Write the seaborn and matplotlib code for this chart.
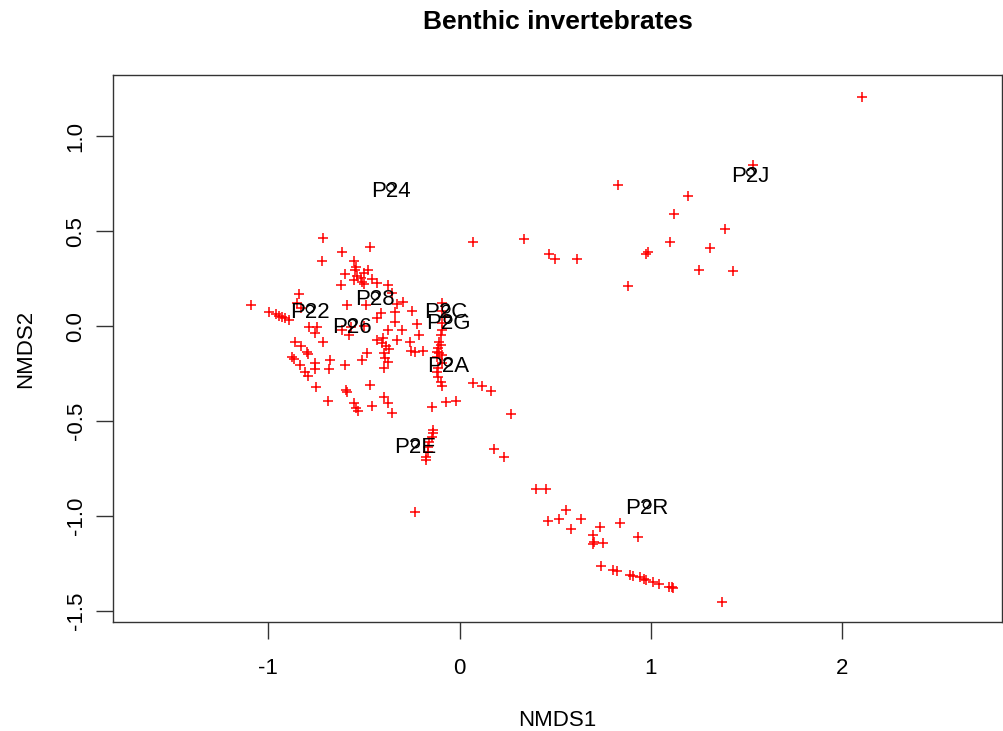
import matplotlib
matplotlib.use("Agg")
import matplotlib.pyplot as plt
import seaborn as sns
import pandas as pd

# Site scores (NMDS1, NMDS2)
nmds1 = [
    -0.711, -0.470, -0.612, -0.716, -0.549, -0.538, -0.544, -0.476, -0.596, -0.497,
    -0.533, -0.512, -0.507, -0.497, -0.549, -0.455, -0.429, -0.376, -0.617, -0.350,
    -0.836, -1.087, -0.847, -0.826, -0.993, -0.957, -0.941, -0.925, -0.909, -0.889,
    -0.585, -0.486, -0.324, -0.293, -0.246, -0.408, -0.335, -0.429, -0.335, -0.220,
    -0.094, -0.089, -0.078, -0.094, -0.784, -0.742, -0.753, -0.612, -0.575, -0.497,
    -0.376, -0.298, -0.209, -0.857, -0.826, -0.795, -0.789, -0.711, -0.873, -0.863,
    -0.831, -0.753, -0.753, -0.674, -0.680, -0.596, -0.507, -0.481, -0.805, -0.789,
    -0.748, -0.591, -0.585, -0.685, -0.549, -0.538, -0.528, -0.429, -0.397, -0.403,
    -0.382, -0.366, -0.324, -0.261, -0.251, -0.230, -0.193, -0.392, -0.387, -0.371,
    -0.392, -0.094, -0.099, -0.105, -0.099, -0.110, -0.115, -0.105, -0.094, -0.120,
    -0.120, -0.110, -0.099, -0.094, 0.073, 0.115, 0.167, -0.465, -0.392, -0.371,
    -0.350, -0.455, -0.146, -0.068, -0.016, 0.267, 0.178, 0.230, -0.141, -0.141,
    -0.146, -0.157, -0.162, -0.167, -0.173, -0.173, -0.230, 0.397, 0.450, 0.554,
    0.460, 0.518, 0.633, 0.580, 0.732, 0.836, 0.695, 0.700, 0.695, 0.747,
    0.930, 0.737, 0.800, 0.821, 0.889, 0.904, 0.941, 0.962, 0.972, 1.009,
    1.040, 1.093, 1.108, 1.113, 1.370, 0.826, 1.192, 1.119, 1.385, 0.068,
    0.335, 1.098, 0.470, 0.497, 0.612, 0.972, 0.983, 1.307, 1.249, 1.427,
    0.878, 1.532, 2.101, -0.094, -0.110, -0.565,
]
nmds2 = [
    0.463, 0.416, 0.389, 0.342, 0.342, 0.311, 0.295, 0.295, 0.274, 0.279,
    0.263, 0.253, 0.232, 0.221, 0.242, 0.247, 0.226, 0.216, 0.216, 0.174,
    0.168, 0.111, 0.121, 0.095, 0.074, 0.063, 0.053, 0.047, 0.042, 0.032,
    0.111, 0.111, 0.116, 0.126, 0.079, 0.068, 0.074, 0.042, 0.021, 0.011,
    0.121, 0.079, 0.047, 0.016, -0.005, -0.005, -0.037, -0.021, -0.047, 0.000,
    -0.021, -0.021, -0.047, -0.084, -0.105, -0.137, -0.147, -0.084, -0.163, -0.174,
    -0.205, -0.195, -0.226, -0.179, -0.226, -0.205, -0.179, -0.142, -0.242, -0.263,
    -0.321, -0.337, -0.347, -0.395, -0.405, -0.432, -0.447, -0.074, -0.063, -0.089,
    -0.105, -0.121, -0.074, -0.084, -0.132, -0.137, -0.132, -0.142, -0.168, -0.189,
    -0.221, -0.021, -0.047, -0.084, -0.100, -0.116, -0.137, -0.142, -0.153, -0.163,
    -0.242, -0.268, -0.295, -0.316, -0.300, -0.316, -0.342, -0.311, -0.374, -0.405,
    -0.458, -0.421, -0.426, -0.400, -0.395, -0.463, -0.647, -0.689, -0.547, -0.563,
    -0.584, -0.611, -0.637, -0.663, -0.689, -0.705, -0.979, -0.858, -0.858, -0.968,
    -1.026, -1.016, -1.016, -1.068, -1.058, -1.037, -1.100, -1.137, -1.147, -1.142,
    -1.111, -1.263, -1.284, -1.289, -1.311, -1.316, -1.321, -1.332, -1.337, -1.347,
    -1.358, -1.374, -1.374, -1.379, -1.453, 0.742, 0.684, 0.589, 0.511, 0.442,
    0.458, 0.442, 0.379, 0.353, 0.353, 0.379, 0.389, 0.411, 0.295, 0.289,
    0.211, 0.847, 1.205, -0.195, -0.221, -0.005,
]

# Group labels (centroids)
site_labels = ["P24", "P28", "P22", "P26", "P2C", "P2G", "P2A", "P2E", "P2R", "P2J"]
label_x = [-0.36, -0.44, -0.78, -0.56, -0.07, -0.06, -0.06, -0.23, 0.98, 1.52]
label_y = [0.71, 0.14, 0.07, -0.005, 0.07, 0.015, -0.21, -0.64, -0.96, 0.79]

x_ticks = [-1, 0, 1, 2]
y_ticks = [-1.5, -1.0, -0.5, 0.0, 0.5, 1.0]

sns.set_theme(style="ticks")
plt.rcParams["font.family"] = ["Liberation Sans", "DejaVu Sans"]
plt.rcParams["text.color"] = "black"
plt.rcParams["axes.labelcolor"] = "black"

df = pd.DataFrame({"NMDS1": nmds1, "NMDS2": nmds2})

fig = plt.figure(figsize=(10.04, 7.31), dpi=100)
ax = fig.add_axes([0.1125, 0.149, 0.886, 0.748])

sns.scatterplot(data=df, x="NMDS1", y="NMDS2", marker="+", color="red",
                s=45, linewidth=1.1, ax=ax, legend=False)

for lab, lx, ly in zip(site_labels, label_x, label_y):
    ax.text(lx, ly, lab, fontsize=16, ha="center", va="center", color="black")
ax.scatter(label_x, [v + 0.02 for v in label_y], marker="o", s=30,
           facecolors="none", edgecolors="black", linewidths=1.0)

ax.set_xlim(-1.81, 2.836)
ax.set_ylim(-1.558, 1.321)
ax.set_xticks(x_ticks)
ax.set_xticklabels([str(t) for t in x_ticks])
ax.set_yticks(y_ticks)
ax.set_yticklabels([f"{t:.1f}" for t in y_ticks], rotation=90, va="center")

for sp in ax.spines.values():
    sp.set_visible(True)
    sp.set_color("#333333")
    sp.set_linewidth(1.0)

ax.tick_params(axis="both", direction="out", length=12, width=1.0,
               color="#333333", labelsize=16, labelcolor="black")
ax.tick_params(axis="x", pad=14)
ax.tick_params(axis="y", pad=7)
ax.set_xlabel("NMDS1", fontsize=16, labelpad=22)
ax.set_ylabel("NMDS2", fontsize=16, labelpad=21)
ax.set_title("Benthic invertebrates", fontsize=19, fontweight="bold", pad=33,
             color="black")

fig.savefig("out.png", dpi=100, facecolor="white")
